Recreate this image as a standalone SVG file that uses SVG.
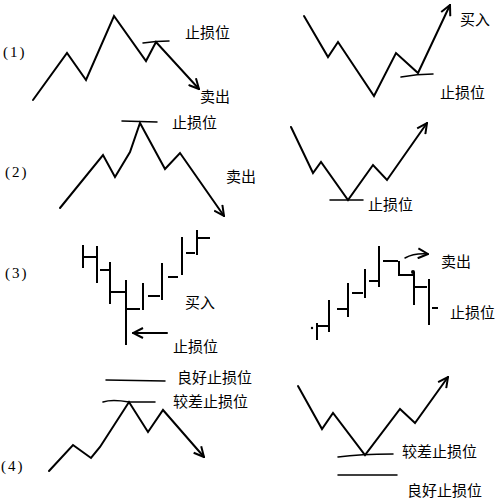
<svg xmlns="http://www.w3.org/2000/svg" width="497" height="502" viewBox="0 0 497 502">
<defs>
<style>
.ln{fill:none;stroke:#000;stroke-width:2;stroke-linejoin:miter;stroke-linecap:round}
.th{fill:none;stroke:#000;stroke-width:1.5;stroke-linecap:round}
.bar{fill:none;stroke:#000;stroke-width:2}
.t{font-family:"Liberation Serif","Noto Sans CJK SC",serif;font-size:15px;fill:#000}
.n{font-family:"Liberation Serif",serif;font-size:15px;fill:#000;letter-spacing:2px}
</style>
<marker id="ah" viewBox="0 0 12 12" refX="11" refY="6" markerWidth="12" markerHeight="12" markerUnits="userSpaceOnUse" orient="auto">
<path d="M1,1 L11,6 L1,11" fill="none" stroke="#000" stroke-width="2"/>
</marker>
</defs>
<rect width="497" height="502" fill="#fff"/>

<g id="p1-left">
<text class="n" x="3" y="57">(1)</text>
<polyline class="ln" points="33,100 67,53 86,80 114,16 146,61 156,42 199,89" marker-end="url(#ah)"/>
<path class="th" d="M143,43 Q156,41 169,41"/>
<text class="t" x="185" y="38">止损位</text>
<text class="t" x="200" y="102">卖出</text>
</g>

<g id="p1-right">
<polyline class="ln" points="304,16 328,57 338,42 374,96 396,53 418,73 450,5" marker-end="url(#ah)"/>
<path class="th" d="M401,77 Q417,74 433,74"/>
<text class="t" x="460" y="25">买入</text>
<text class="t" x="440" y="98">止损位</text>
</g>

<g id="p2-left">
<text class="n" x="5" y="177">(2)</text>
<polyline class="ln" points="60,208 103,155 115,177 130,152 140,123 165,169 180,153 224,216" marker-end="url(#ah)"/>
<line class="th" x1="122" y1="121" x2="157" y2="122"/>
<text class="t" x="172" y="128">止损位</text>
<text class="t" x="226" y="182">卖出</text>
</g>

<g id="p2-right">
<polyline class="ln" points="291,127 313,173 321,162 348,200 373,165 387,180 427,123" marker-end="url(#ah)"/>
<line class="th" x1="330" y1="200" x2="363" y2="200"/>
<text class="t" x="368" y="210">止损位</text>
</g>

<g id="p3-left">
<text class="n" x="5" y="278">(3)</text>
<path class="bar" d="M83,245 V268 M83,257 H97 M97,246 V283 M100,270 H110 M110,262 V304 M110,292 H125 M126,280 V345 M126,309 H140 M143,283 V310 M148,296 H160 M162,263 V300 M168,277 H178 M182,237 V275 M186,253 H195 M197,230 V255 M198,238 H210"/>
<line class="ln" x1="167" y1="333" x2="133" y2="333" marker-end="url(#ah)"/>
<text class="t" x="185" y="308">买入</text>
<text class="t" x="173" y="352">止损位</text>
</g>

<g id="p3-right">
<circle cx="312" cy="328" r="1.2" fill="#000"/>
<path class="bar" d="M317,323 V340 M318,326 H330 M329,300 V332 M337,309 H348 M348,283 V317 M352,293 H363 M365,269 V298 M369,281 H378 M379,246 V287 M383,261 H398 M399,261 V276 M399,275 H413 M414,272 V305 M414,287 H427 M429,279 V325 M432,308 H438"/>
<circle cx="413" cy="272" r="2" fill="#000"/>
<path class="th" d="M405,258 Q414,253 428,254" marker-end="url(#ah)"/>
<text class="t" x="441" y="267">卖出</text>
<text class="t" x="450" y="318">止损位</text>
</g>

<g id="p4-left">
<text class="n" x="1" y="471">(4)</text>
<line class="th" x1="106" y1="380" x2="165" y2="381"/>
<path class="th" d="M103,402 Q112,399 129,402 L155,402"/>
<polyline class="ln" points="49,471 73,445 91,458 100,447 129,402 148,432 163,410 204,457" marker-end="url(#ah)"/>
<text class="t" x="177" y="383">良好止损位</text>
<text class="t" x="173" y="407">较差止损位</text>
</g>

<g id="p4-right">
<polyline class="ln" points="298,386 322,429 333,413 365,455 400,409 415,423 448,377" marker-end="url(#ah)"/>
<path class="th" d="M338,457 Q360,454 393,454"/>
<line class="th" x1="338" y1="475" x2="397" y2="475"/>
<text class="t" x="402" y="457">较差止损位</text>
<text class="t" x="407" y="496">良好止损位</text>
</g>
</svg>
